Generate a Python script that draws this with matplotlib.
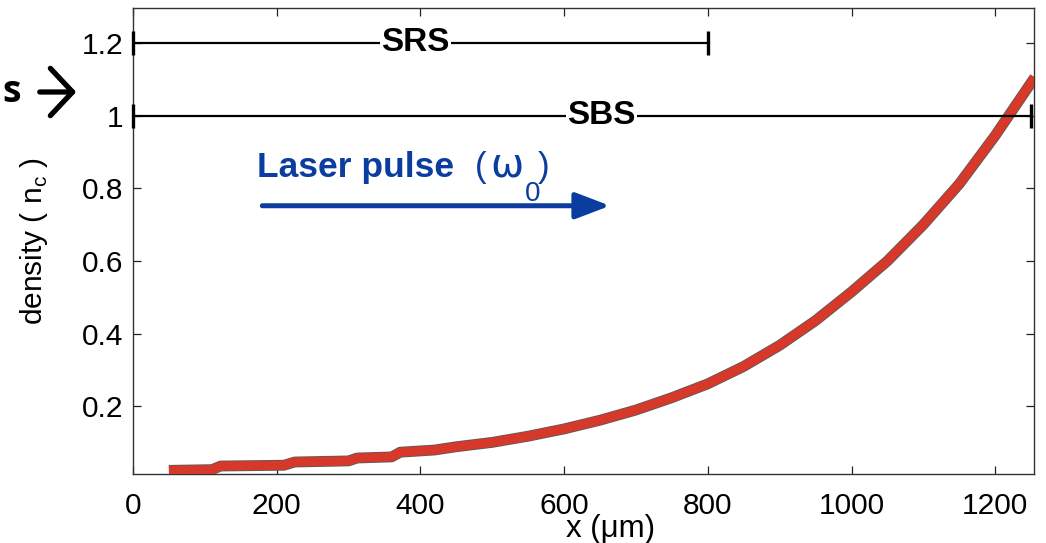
import matplotlib
matplotlib.use("Agg")
import matplotlib.pyplot as plt
import matplotlib.patheffects as pe
from matplotlib.patches import FancyArrowPatch

plt.rcParams['font.family'] = ['Liberation Sans', 'DejaVu Sans']
plt.rcParams['mathtext.fontset'] = 'custom'
plt.rcParams['mathtext.rm'] = 'Liberation Sans'

# Density profile along the propagation axis
x_um = [50, 110, 122, 210, 225, 300, 312, 360, 372, 420, 450, 500, 550, 600,
        650, 700, 750, 800, 850, 900, 950, 1000, 1050, 1100, 1150, 1200, 1255]
density = [0.024, 0.026, 0.036, 0.038, 0.047, 0.050, 0.058, 0.061, 0.074, 0.080,
           0.089, 0.101, 0.118, 0.138, 0.162, 0.190, 0.224, 0.262, 0.310, 0.368,
           0.436, 0.515, 0.600, 0.700, 0.812, 0.945, 1.105]

# Instability regions
regions = ['SRS', 'SBS']
region_start = [0, 0]
region_end = [800, 1250]
region_level = [1.2, 1.0]
region_label_x = [393, 652]

xticks = [0, 200, 400, 600, 800, 1000, 1200]
yticks = [0.2, 0.4, 0.6, 0.8, 1.0, 1.2]
ytick_labels = ['0.2', '0.4', '0.6', '0.8', '1', '1.2']

W, H = 1046, 543
fig = plt.figure(figsize=(W / 100, H / 100), dpi=100)
ax = fig.add_axes([133 / W, 1 - 474 / H, 901 / W, 466 / H])

ax.set_xlim(0, 1254)
ax.set_ylim(0.014, 1.296)

# Density curve: thick red line with a dark rim
ax.plot(x_um, density, color='#d6392a', lw=6.6, solid_capstyle='butt',
        solid_joinstyle='round',
        path_effects=[pe.Stroke(linewidth=7.8, foreground='#5a5a5a'), pe.Normal()],
        zorder=3)

# Range bars with end caps
for name, x0, x1, lev, lx in zip(regions, region_start, region_end,
                                 region_level, region_label_x):
    ax.hlines(lev, x0, x1, color='black', lw=1.6, zorder=4)
    ax.vlines([x0, x1], lev - 0.033, lev + 0.033, color='black', lw=2.4,
              zorder=4, clip_on=False)
    ax.text(lx, lev, name, ha='center', va='center', fontsize=24,
            fontweight='bold', color='black', zorder=5,
            bbox=dict(facecolor='white', edgecolor='none', pad=1.0))

# Laser pulse annotation: bold caption, regular (ω0) with a lowered 0
blue = '#0b3c9f'
ax.text(172, 0.832, 'Laser pulse', ha='left', va='baseline', fontsize=25.5,
        fontweight='bold', color=blue, zorder=5)
ax.text(476, 0.832, '(', ha='left', va='baseline', fontsize=25,
        color=blue, zorder=5)
ax.text(497, 0.832, 'ω', ha='left', va='baseline', fontsize=28.5,
        family='DejaVu Sans', color=blue, zorder=5)
ax.text(546, 0.765, '0', ha='left', va='baseline', fontsize=20,
        color=blue, zorder=5)
ax.text(564, 0.832, ')', ha='left', va='baseline', fontsize=25,
        color=blue, zorder=5)
ax.annotate('', xy=(664, 0.752), xytext=(180, 0.752),
            arrowprops=dict(arrowstyle='-|>,head_length=2.1,head_width=0.8',
                            color=blue, lw=3.6, shrinkA=0, shrinkB=0),
            zorder=5)

# Axes styling
ax.set_xticks(xticks)
ax.set_xticklabels([str(t) for t in xticks])
ax.set_yticks(yticks)
ax.set_yticklabels(ytick_labels)
ax.tick_params(direction='in', length=6, width=0.9, top=True, right=True,
               labelsize=21.5, colors='#222222', labelcolor='black')
ax.tick_params(axis='x', pad=13)
ax.tick_params(axis='y', pad=7)
for s in ax.spines.values():
    s.set_linewidth(1.0)
    s.set_color('#333333')

fig.text(611 / W, 1 - 537 / H, 'x (μm)', ha='center', va='baseline',
         fontsize=22.5)
fig.text(34 / W, 1 - 241 / H, r'density ( n$_{\rm c}$ )', rotation=90,
         ha='center', va='center', fontsize=21.5)

# Margin note pointing at the critical-density line
fig.text(2 / W, 1 - 92 / H, 's', ha='left', va='center', fontsize=27,
         fontweight='bold', family=['Open Sans', 'DejaVu Sans'])
fig.patches.append(FancyArrowPatch(
    (37 / W, 1 - 92 / H), (79 / W, 1 - 92 / H), transform=fig.transFigure,
    arrowstyle='->,head_length=0.8,head_width=0.85', lw=3.8, color='black',
    mutation_scale=20))

fig.savefig('out.png', dpi=100)
